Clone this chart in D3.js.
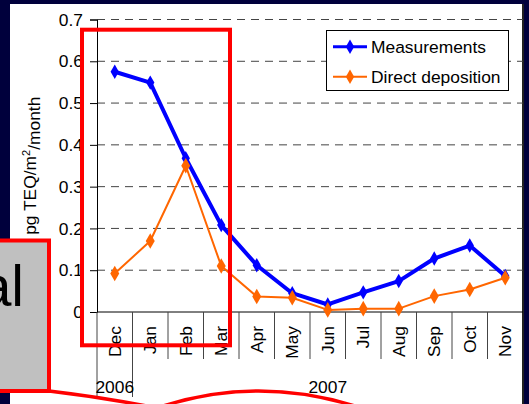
<!DOCTYPE html>
<meta charset="utf-8">
<style>
    body {
        margin: 0;
        background: #00003c;
    }

    svg {
        display: block;
        font-family: "Liberation Sans", Arial, sans-serif;
    }

    .grid line {
        stroke: #444;
        stroke-dasharray: 8, 6;
    }
</style>
<svg width="529" height="404"></svg>
<script src="https://d3js.org/d3.v7.min.js"></script>
<script>
    var months = ["Dec", "Jan", "Feb", "Mar", "Apr", "May", "Jun", "Jul", "Aug", "Sep", "Oct", "Nov"];
    var measurements = [0.575, 0.549, 0.368, 0.208, 0.112, 0.045, 0.018, 0.047, 0.074, 0.128, 0.159, 0.086];
    var directDeposition = [0.092, 0.170, 0.350, 0.110, 0.037, 0.034, 0.005, 0.008, 0.008, 0.038, 0.054, 0.082];
    var yTicks = [0, 0.1, 0.2, 0.3, 0.4, 0.5, 0.6, 0.7];
    var yearLabels = ["2006", "2007"];
    var yearFirstMonth = ["Dec", "Jan"];
    var yearLastMonth = ["Dec", "Nov"];
    var seriesNames = ["Measurements", "Direct deposition"];

    var svg = d3.select("svg"),
        width = +svg.attr("width"),
        height = +svg.attr("height");

    var fontSize = 17.4;
    var blue = "#0000ff", orange = "#ff6600", red = "#ff0000";

    // slide panel
    svg.append("rect")
        .attr("x", 10).attr("y", 4)
        .attr("width", 513).attr("height", height)
        .attr("fill", "#fff");
    svg.append("line")
        .attr("x1", 523).attr("x2", 523)
        .attr("y1", 4).attr("y2", height)
        .attr("stroke", "#222").attr("stroke-width", 2);

    var x = d3.scaleBand()
        .domain(months)
        .range([97, 523]);

    var y = d3.scaleLinear()
        .domain([0, 0.7])
        .range([312, 19.5]);

    // gridlines
    svg.append("g")
        .attr("class", "grid")
        .selectAll("line")
        .data(yTicks.slice(1))
        .enter().append("line")
        .attr("x1", x.range()[0])
        .attr("x2", x.range()[1])
        .attr("y1", function (d) { return y(d); })
        .attr("y2", function (d) { return y(d); });

    // y axis
    var yAxis = svg.append("g")
        .attr("transform", "translate(" + x.range()[0] + ",0)")
        .call(d3.axisLeft(y)
            .tickValues(yTicks)
            .tickSize(7)
            .tickPadding(7)
            .tickFormat(function (d) { return d === 0 ? "0" : d3.format(".1f")(d); }));
    yAxis.select(".domain").attr("stroke", "#000");
    yAxis.selectAll("text")
        .attr("fill", "#000")
        .style("font-size", fontSize + "px");

    // x axis: category separators + rotated month labels
    var xg = svg.append("g");
    xg.append("line")
        .attr("x1", x.range()[0]).attr("x2", x.range()[1])
        .attr("y1", y(0)).attr("y2", y(0))
        .attr("stroke", "#000");
    var yearEdges = yearFirstMonth.map(function (m) { return x(m); });
    xg.selectAll(".sep")
        .data(months.slice(1).map(function (m) { return x(m); }))
        .enter().append("line")
        .attr("x1", function (d) { return d; })
        .attr("x2", function (d) { return d; })
        .attr("y1", y(0))
        .attr("y2", function (d) { return yearEdges.indexOf(d) >= 0 ? 397 : 359; })
        .attr("stroke", "#444");
    xg.append("line")
        .attr("x1", x.range()[0]).attr("x2", x.range()[0])
        .attr("y1", y(0)).attr("y2", 397)
        .attr("stroke", "#444");

    xg.selectAll(".month")
        .data(months)
        .enter().append("text")
        .attr("transform", function (d) {
            return "translate(" + (x(d) + x.bandwidth() / 2) + ",326) rotate(-90)";
        })
        .attr("dy", "0.35em")
        .attr("text-anchor", "end")
        .style("font-size", fontSize + "px")
        .text(function (d) { return d; });

    xg.selectAll(".year")
        .data(yearLabels)
        .enter().append("text")
        .attr("x", function (d, i) {
            return (x(yearFirstMonth[i]) + x(yearLastMonth[i]) + x.bandwidth()) / 2;
        })
        .attr("y", 393)
        .attr("text-anchor", "middle")
        .style("font-size", fontSize + "px")
        .text(function (d) { return d; });

    // y axis title
    var title = svg.append("text")
        .attr("transform", "translate(30," + (y(0) + y(0.7)) / 2 + ") rotate(-90)")
        .attr("dy", "0.35em")
        .attr("text-anchor", "middle")
        .style("font-size", fontSize + "px");
    title.append("tspan").text("pg TEQ/m");
    title.append("tspan").attr("dy", "-0.6em").style("font-size", "11px").text("2");
    title.append("tspan").attr("dy", "0.6em").text("/month");

    // series
    var diamond = d3.symbol().type(d3.symbolDiamond);
    var line = d3.line()
        .x(function (d, i) { return x(months[i]) + x.bandwidth() / 2; })
        .y(function (d) { return y(d); });

    function drawSeries(values, color, lw, size) {
        var g = svg.append("g");
        g.append("path")
            .datum(values)
            .attr("d", line)
            .attr("fill", "none")
            .attr("stroke", color)
            .attr("stroke-width", lw)
            .attr("stroke-linejoin", "round");
        g.selectAll("path.pt")
            .data(values)
            .enter().append("path")
            .attr("class", "pt")
            .attr("transform", function (d, i) {
                return "translate(" + (x(months[i]) + x.bandwidth() / 2) + "," + y(d) + ")";
            })
            .attr("d", diamond.size(size))
            .attr("fill", color);
    }

    drawSeries(measurements, blue, 4, 60);
    drawSeries(directDeposition, orange, 2, 70);

    // legend
    var legend = svg.append("g");
    legend.append("rect")
        .attr("x", 326.5).attr("y", 30.5)
        .attr("width", 182).attr("height", 60)
        .attr("fill", "#fff")
        .attr("stroke", "#000");
    var item = legend.selectAll(".item")
        .data(seriesNames)
        .enter().append("g")
        .attr("transform", function (d, i) { return "translate(0," + (46.7 + i * 30) + ")"; });
    item.append("line")
        .attr("x1", 333).attr("x2", 367)
        .attr("stroke", function (d, i) { return i ? orange : blue; })
        .attr("stroke-width", function (d, i) { return i ? 2 : 3; });
    item.append("path")
        .attr("transform", "translate(350,0)")
        .attr("d", diamond.size(60))
        .attr("fill", function (d, i) { return i ? orange : blue; });
    item.append("text")
        .attr("x", 371)
        .attr("dy", "0.35em")
        .style("font-size", fontSize + "px")
        .text(function (d) { return d; });

    // slide overlays
    svg.append("rect")
        .attr("x", 82).attr("y", 29.7)
        .attr("width", 148).attr("height", 315.6)
        .attr("fill", "none")
        .attr("stroke", red)
        .attr("stroke-width", 4);

    svg.append("rect")
        .attr("x", -10).attr("y", 240.5)
        .attr("width", 59).attr("height", 150.5)
        .attr("fill", "#c0c0c0")
        .attr("stroke", red)
        .attr("stroke-width", 4);
    svg.append("text")
        .attr("x", 24).attr("y", 305.7)
        .attr("text-anchor", "end")
        .style("font-size", "57px")
        .text("al");

    svg.append("path")
        .attr("d", "M49,391 Q100,397 152,407")
        .attr("fill", "none")
        .attr("stroke", red)
        .attr("stroke-width", 3.5);
    svg.append("path")
        .attr("d", "M160,407 Q258,375 358,407")
        .attr("fill", "none")
        .attr("stroke", red)
        .attr("stroke-width", 3.5);
</script>
